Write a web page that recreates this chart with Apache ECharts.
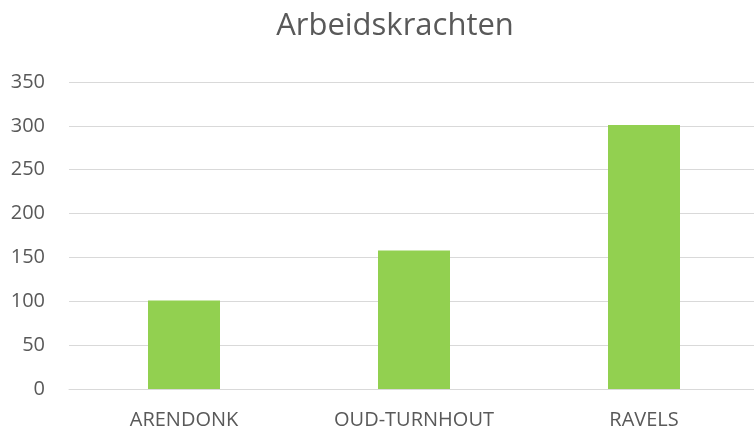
<!DOCTYPE html>
<html>
<head>
<meta charset="utf-8">
<script src="https://cdn.jsdelivr.net/npm/echarts@6/dist/echarts.min.js"></script>
<style>
html,body{margin:0;padding:0;background:#fff;}
#chart{width:754px;height:432px;}
</style>
</head>
<body>
<div id="chart"></div>
<script>
// data
const categories = ['ARENDONK', 'OUD-TURNHOUT', 'RAVELS'];
const workers = [101, 158, 301];

const chart = echarts.init(document.getElementById('chart'));
const option = {
  animation: false,
  title: {
    text: 'Arbeidskrachten',
    left: 390,
    textAlign: 'center',
    top: 6,
    textStyle: { fontFamily: 'Open Sans', fontSize: 31, fontWeight: 'normal', color: '#595959' }
  },
  // grid runs a little past the right edge, like the original
  grid: { left: 69, right: -5, top: 82, bottom: 43, containLabel: false, outerBoundsMode: 'none' },
  xAxis: {
    type: 'category',
    data: categories,
    axisLine: { lineStyle: { color: '#d9d9d9', width: 1 } },
    axisTick: { show: false },
    axisLabel: { margin: 21, fontFamily: 'Open Sans', fontSize: 20, color: '#595959' }
  },
  yAxis: {
    type: 'value',
    min: 0,
    max: 350,
    interval: 50,
    axisLine: { show: false },
    axisTick: { show: false },
    axisLabel: { margin: 24, fontFamily: 'Open Sans', fontSize: 20, color: '#595959' },
    splitLine: { lineStyle: { color: '#d9d9d9', width: 1 } }
  },
  series: [{
    type: 'bar',
    data: workers,
    barWidth: 72,
    itemStyle: { color: '#92d050' }
  }]
};
chart.setOption(option);
</script>
</body>
</html>
